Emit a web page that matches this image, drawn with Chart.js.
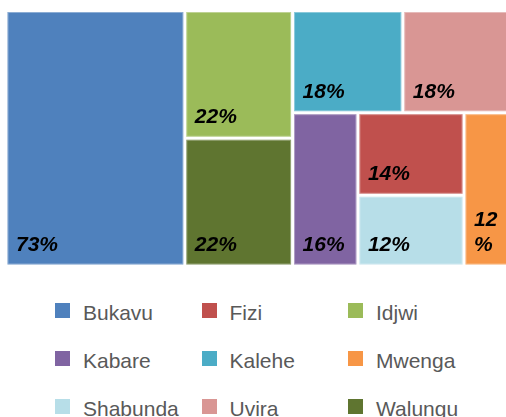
<!DOCTYPE html>
<html>
<head>
<meta charset="utf-8">
<script src="https://cdn.jsdelivr.net/npm/chart.js@4"></script>
<style>
  html, body { margin: 0; padding: 0; background: #fff; overflow: hidden; }
  #wrap { position: relative; width: 513px; height: 417px; }
  #legende {
    position: absolute; left: 55px; top: 303px;
    display: grid; grid-template-columns: repeat(3, 146.5px); grid-auto-rows: 48px;
    font-family: "Liberation Sans", Arial, sans-serif; font-size: 21px; color: #595959;
  }
  .item { display: flex; align-items: flex-start; white-space: nowrap; }
  .carre { width: 15px; height: 15px; margin-right: 13px; flex: none; }
  .txt { line-height: 15px; position: relative; top: 2px; }
</style>
</head>
<body>
<div id="wrap">
  <canvas id="treemap" width="513" height="280"></canvas>
  <div id="legende"></div>
</div>
<script>
// Dados
const territoires = ['Bukavu', 'Fizi', 'Idjwi', 'Kabare', 'Kalehe', 'Mwenga', 'Shabunda', 'Uvira', 'Walungu'];
const valeurs = [73, 14, 22, 16, 18, 12, 12, 18, 22];
const couleurs = ['#4F81BD', '#C0504D', '#9BBB59', '#8064A2', '#4BACC6', '#F79646', '#B7DEE8', '#D99694', '#5F7530'];

// Ordem do recorte (h = lado a lado, v = empilhado)
const decoupage = ['h', 'Bukavu', ['v', 'Idjwi', 'Walungu'],
  ['v', ['h', 'Kalehe', 'Uvira'], ['h', 'Kabare', ['v', 'Fizi', 'Shabunda'], 'Mwenga']]];

function somme(noeud) {
    if (typeof noeud === 'string') return valeurs[territoires.indexOf(noeud)];
    return noeud.slice(1).reduce((s, n) => s + somme(n), 0);
}

function decouper(noeud, x0, y0, x1, y1, out) {
    if (typeof noeud === 'string') {
        out.push({ nom: noeud, x0, y0, x1, y1 });
        return out;
    }
    const total = somme(noeud);
    let pos = noeud[0] === 'h' ? x0 : y0;
    noeud.slice(1).forEach(n => {
        const f = somme(n) / total;
        if (noeud[0] === 'h') {
            const nx = pos + (x1 - x0) * f;
            decouper(n, pos, y0, nx, y1, out);
            pos = nx;
        } else {
            const ny = pos + (y1 - y0) * f;
            decouper(n, x0, pos, x1, ny, out);
            pos = ny;
        }
    });
    return out;
}

// Desenha as células com as escalas do gráfico
const celulas = {
    id: 'celulas',
    afterDatasetsDraw(chart) {
        const { ctx, scales: { x, y } } = chart;
        const cells = decouper(decoupage, 0, 0, 1, 1, []);
        ctx.save();
        cells.forEach(c => {
            const i = territoires.indexOf(c.nom);
            const px0 = x.getPixelForValue(c.x0), px1 = x.getPixelForValue(c.x1);
            const py0 = y.getPixelForValue(c.y0), py1 = y.getPixelForValue(c.y1);
            ctx.fillStyle = couleurs[i];
            ctx.fillRect(px0 + 1.5, py0 + 1.5, px1 - px0 - 3, py1 - py0 - 3);
            ctx.strokeStyle = 'rgba(255,255,255,0.35)';
            ctx.lineWidth = 1;
            ctx.strokeRect(px0 + 2, py0 + 2, px1 - px0 - 4, py1 - py0 - 4);

            ctx.fillStyle = '#000';
            ctx.font = 'italic bold 21px "Liberation Sans", Arial, sans-serif';
            ctx.textBaseline = 'alphabetic';
            const txt = valeurs[i] + '%';
            const lignes = ctx.measureText(txt).width > (px1 - px0) - 20 ? [String(valeurs[i]), '%'] : [txt];
            lignes.forEach((l, k) => {
                ctx.fillText(l, px0 + 10, py1 - 15 - (lignes.length - 1 - k) * 25);
            });
        });
        ctx.restore();
    }
};

const legendeHtml = {
    id: 'legendeHtml',
    afterUpdate() {
        const box = document.getElementById('legende');
        box.innerHTML = '';
        territoires.forEach((t, i) => {
            const item = document.createElement('div');
            item.className = 'item';
            item.innerHTML = '<span class="carre" style="background:' + couleurs[i] + '"></span><span class="txt">' + t + '</span>';
            box.appendChild(item);
        });
    }
};

const config = {
    type: 'scatter',
    data: {
        labels: territoires,
        datasets: [{ label: 'Part', data: [] }]
    },
    options: {
        responsive: false,
        animation: false,
        events: [],
        layout: { padding: { left: 6, right: 0, top: 10.5, bottom: 14 } },
        scales: {
            x: { type: 'linear', min: 0, max: 1, display: false },
            y: { type: 'linear', min: 0, max: 1, display: false, reverse: true }
        },
        plugins: {
            legend: { display: false },
            tooltip: { enabled: false }
        }
    },
    plugins: [celulas, legendeHtml]
};

window.onload = function () {
    const ctx = document.getElementById('treemap').getContext('2d');
    new Chart(ctx, config);
};
</script>
</body>
</html>
